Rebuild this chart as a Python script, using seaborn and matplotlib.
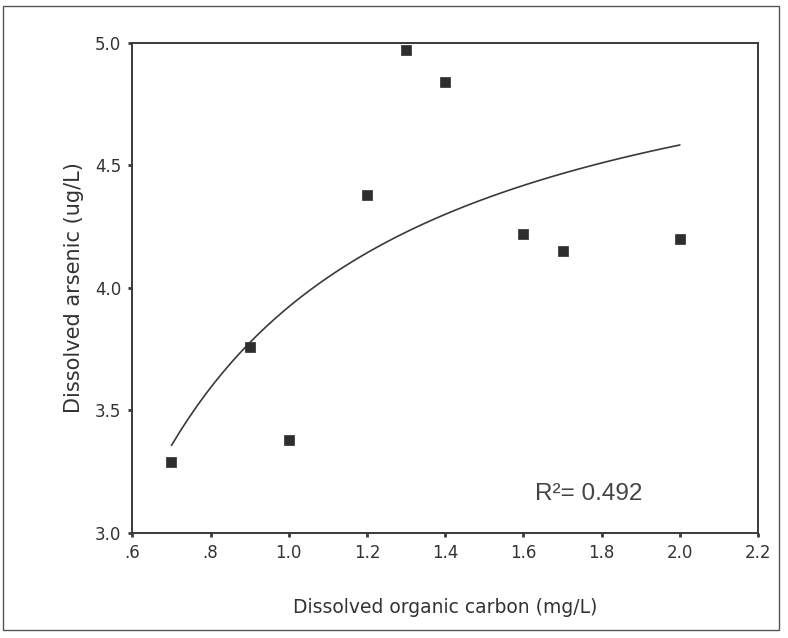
import numpy as np
import pandas as pd
import matplotlib
matplotlib.use("Agg")
import matplotlib.pyplot as plt
from matplotlib.patches import Rectangle
from matplotlib.ticker import FixedLocator, FixedFormatter
import seaborn as sns

# Data
doc = [0.70, 0.90, 1.00, 1.20, 1.30, 1.40, 1.60, 1.70, 2.00]
arsenic = [3.29, 3.76, 3.38, 4.38, 4.97, 4.84, 4.22, 4.15, 4.20]
x_ticks = [0.6, 0.8, 1.0, 1.2, 1.4, 1.6, 1.8, 2.0, 2.2]
x_tick_labels = [".6", ".8", "1.0", "1.2", "1.4", "1.6", "1.8", "2.0", "2.2"]
y_ticks = [3.0, 3.5, 4.0, 4.5, 5.0]
y_tick_labels = ["3.0", "3.5", "4.0", "4.5", "5.0"]
r2_label = "R\u00b2= 0.492"

sns.set_theme(style="white")
plt.rcParams['font.family'] = ['DejaVu Sans']

df = pd.DataFrame({"doc": doc, "arsenic": arsenic})

# Inverse-model fit (y = a + b/x), as in the fitted curve of the reference
b, a = np.polyfit(1.0 / df["doc"].to_numpy(), df["arsenic"].to_numpy(), 1)
xs = np.linspace(min(doc), max(doc), 60)
fit = pd.DataFrame({"doc": xs, "arsenic": a + b / xs})

fig = plt.figure(figsize=(7.88, 6.38), dpi=100)
ax = fig.add_axes([0.168, 0.165, 0.794, 0.768])

ink = "#3a3a3a"
sns.lineplot(data=fit, x="doc", y="arsenic", ax=ax, color=ink, linewidth=1.2)
sns.scatterplot(data=df, x="doc", y="arsenic", ax=ax, marker="s", s=42,
                color="#2e2e2e", edgecolor="#2e2e2e", linewidth=0.5, zorder=3)

ax.set_xlim(0.6, 2.2)
ax.set_ylim(3.0, 5.0)
ax.xaxis.set_major_locator(FixedLocator(x_ticks))
ax.xaxis.set_major_formatter(FixedFormatter(x_tick_labels))
ax.yaxis.set_major_locator(FixedLocator(y_ticks))
ax.yaxis.set_major_formatter(FixedFormatter(y_tick_labels))

for sp in ax.spines.values():
    sp.set_visible(True)
    sp.set_color(ink)
    sp.set_linewidth(1.4)

ax.tick_params(axis="both", which="major", direction="out", length=3, width=2,
               color=ink, labelsize=12, labelcolor="#333333", pad=5,
               bottom=True, left=True)

ax.set_xlabel("Dissolved organic carbon (mg/L)", fontsize=13.5, color="#333333",
              labelpad=26)
ax.set_ylabel("Dissolved arsenic (ug/L)", fontsize=15, color="#333333", labelpad=8)

ax.text(1.63, 3.16, r2_label, fontsize=17.5, color="#444444",
        family=["Liberation Sans", "DejaVu Sans"], va="center", ha="left")

# outer frame of the figure
fig.patches.append(Rectangle((0.004, 0.012), 0.984, 0.978, transform=fig.transFigure,
                             fill=False, edgecolor="#555555", linewidth=1.0))

fig.savefig("out.png", dpi=100)
